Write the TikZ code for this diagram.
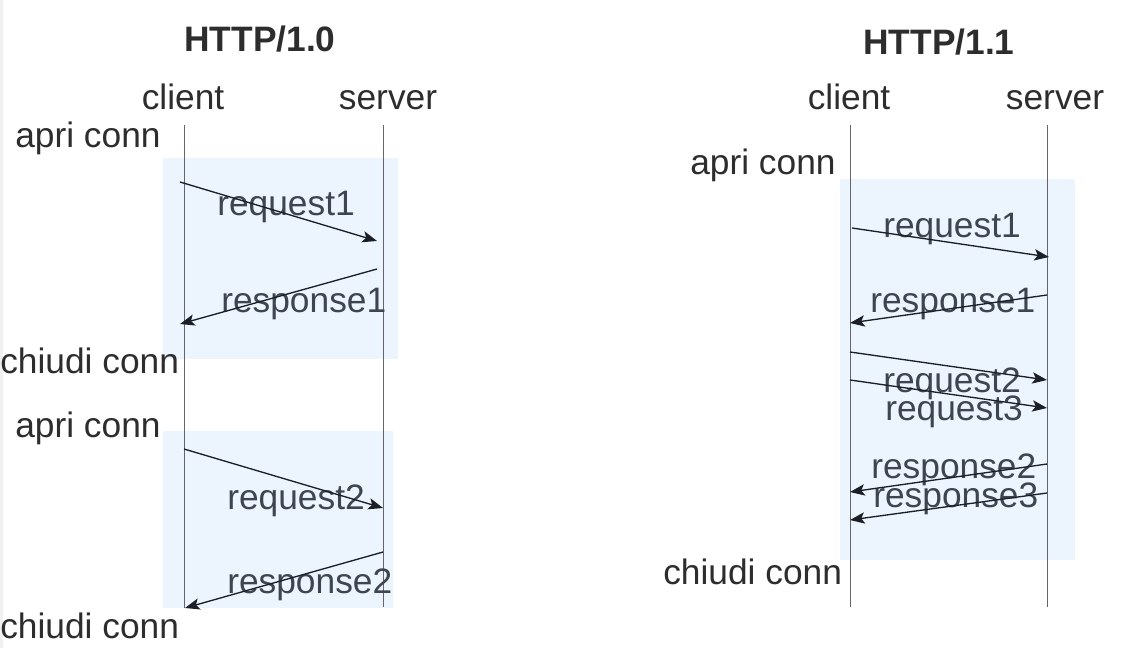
\documentclass[tikz,border=0pt]{standalone}
\usepackage{fontspec}
\setmainfont{Liberation Sans}
\usetikzlibrary{arrows.meta}
\definecolor{txtgray}{RGB}{45,45,45}
\definecolor{lblgray}{RGB}{62,69,80}
\definecolor{phasefill}{RGB}{236,244,254}
\definecolor{lifegray}{RGB}{100,100,105}
\definecolor{msgdark}{RGB}{28,32,38}

\begin{document}
\begin{tikzpicture}[x=0.75pt,y=0.75pt,yscale=-1,xscale=1,
  every node/.style={inner sep=0pt,font=\fontsize{26.5}{30}\selectfont},
  titletext/.style={font=\fontsize{26.5}{30}\selectfont\bfseries,text=txtgray,anchor=base},
  plaintext/.style={text=txtgray,anchor=base west},
  msgtext/.style={text=lblgray,anchor=base west},
  lifeline/.style={draw=lifegray,line width=0.6pt},
  msg/.style={draw=msgdark,line width=1pt,-{Stealth[length=11pt,width=8.5pt,inset=2.5pt]}},
  phase/.style={fill=phasefill,draw=none}]
\useasboundingbox (0,0) rectangle (1126,648);
\fill [gray!12] (0,0) rectangle (3,648);

%Shape: Rectangle (phases)
\path [phase] (163,158) rectangle (398,359);
\path [phase] (163,431) rectangle (393,608);
\path [phase] (840,179) rectangle (1075,560);

% Text Node
\node [titletext] (t10) at (260,52) {HTTP/1.0};
\node [titletext] (t11) at (939,55) {HTTP/1.1};
\node [text=txtgray,anchor=base] (cl10) at (183,110) {client};
\node [text=txtgray,anchor=base] (sv10) at (388,110) {server};
\node [text=txtgray,anchor=base] (cl11) at (849,110) {client};
\node [text=txtgray,anchor=base] (sv11) at (1055,110) {server};

%Straight Lines (lifelines)
\coordinate (lcTop) at (184,125);  \coordinate (lcBot) at (184,608);
\coordinate (lsTop) at (383,125);  \coordinate (lsBot) at (383,607);
\coordinate (rcTop) at (850,125);  \coordinate (rcBot) at (850,607);
\coordinate (rsTop) at (1047,125); \coordinate (rsBot) at (1047,607);
\draw [lifeline] (lcTop) -- (lcBot);
\draw [lifeline] (lsTop) -- (lsBot);
\draw [lifeline] (rcTop) -- (rcBot);
\draw [lifeline] (rsTop) -- (rsBot);

% Text Node (HTTP/1.0)
\node [plaintext] (open1) at (15,148) {apri conn};
\node [plaintext] (close1) at (0,373) {chiudi conn};
\node [plaintext] (open2) at (15,437) {apri conn};
\node [plaintext] (close2) at (0,638) {chiudi conn};
\node [msgtext] (lreq1) at (217,216) {request1};
\node [msgtext] (lres1) at (221,312) {response1};
\node [msgtext] (lreq2) at (227,509) {request2};
\node [msgtext] (lres2) at (227,593) {response2};

% Text Node (HTTP/1.1)
\node [plaintext] (open3) at (690,175) {apri conn};
\node [plaintext] (close3) at (663,584) {chiudi conn};
\node [msgtext] (mreq1) at (883,238) {request1};
\node [msgtext] (mres1) at (870,312) {response1};
\node [msgtext] (mreq2) at (883,392) {request2};
\node [msgtext] (mreq3) at (885,420) {request3};
\node [msgtext] (mres2) at (871,478) {response2};
\node [msgtext] (mres3) at (873,507) {response3};

%Straight Lines (messages, HTTP/1.0)
\coordinate (a1) at (180,182); \coordinate (b1) at (377,241);
\coordinate (a2) at (377,269); \coordinate (b2) at (180,324);
\coordinate (a3) at (184,449); \coordinate (b3) at (383,508);
\coordinate (a4) at (383,552); \coordinate (b4) at (185,608);
\draw [msg] (a1) -- (b1);
\draw [msg] (a2) -- (b2);
\draw [msg] (a3) -- (b3);
\draw [msg] (a4) -- (b4);

%Straight Lines (messages, HTTP/1.1)
\coordinate (p1) at (852,228);  \coordinate (q1) at (1049,257);
\coordinate (p2) at (1047,295); \coordinate (q2) at (850,323);
\coordinate (p3) at (850,352);  \coordinate (q3) at (1047,380);
\coordinate (p4) at (850,380);  \coordinate (q4) at (1047,408);
\coordinate (p5) at (1047,464); \coordinate (q5) at (850,492);
\coordinate (p6) at (1047,493); \coordinate (q6) at (850,520);
\draw [msg] (p1) -- (q1);
\draw [msg] (p2) -- (q2);
\draw [msg] (p3) -- (q3);
\draw [msg] (p4) -- (q4);
\draw [msg] (p5) -- (q5);
\draw [msg] (p6) -- (q6);

\end{tikzpicture}
\end{document}
